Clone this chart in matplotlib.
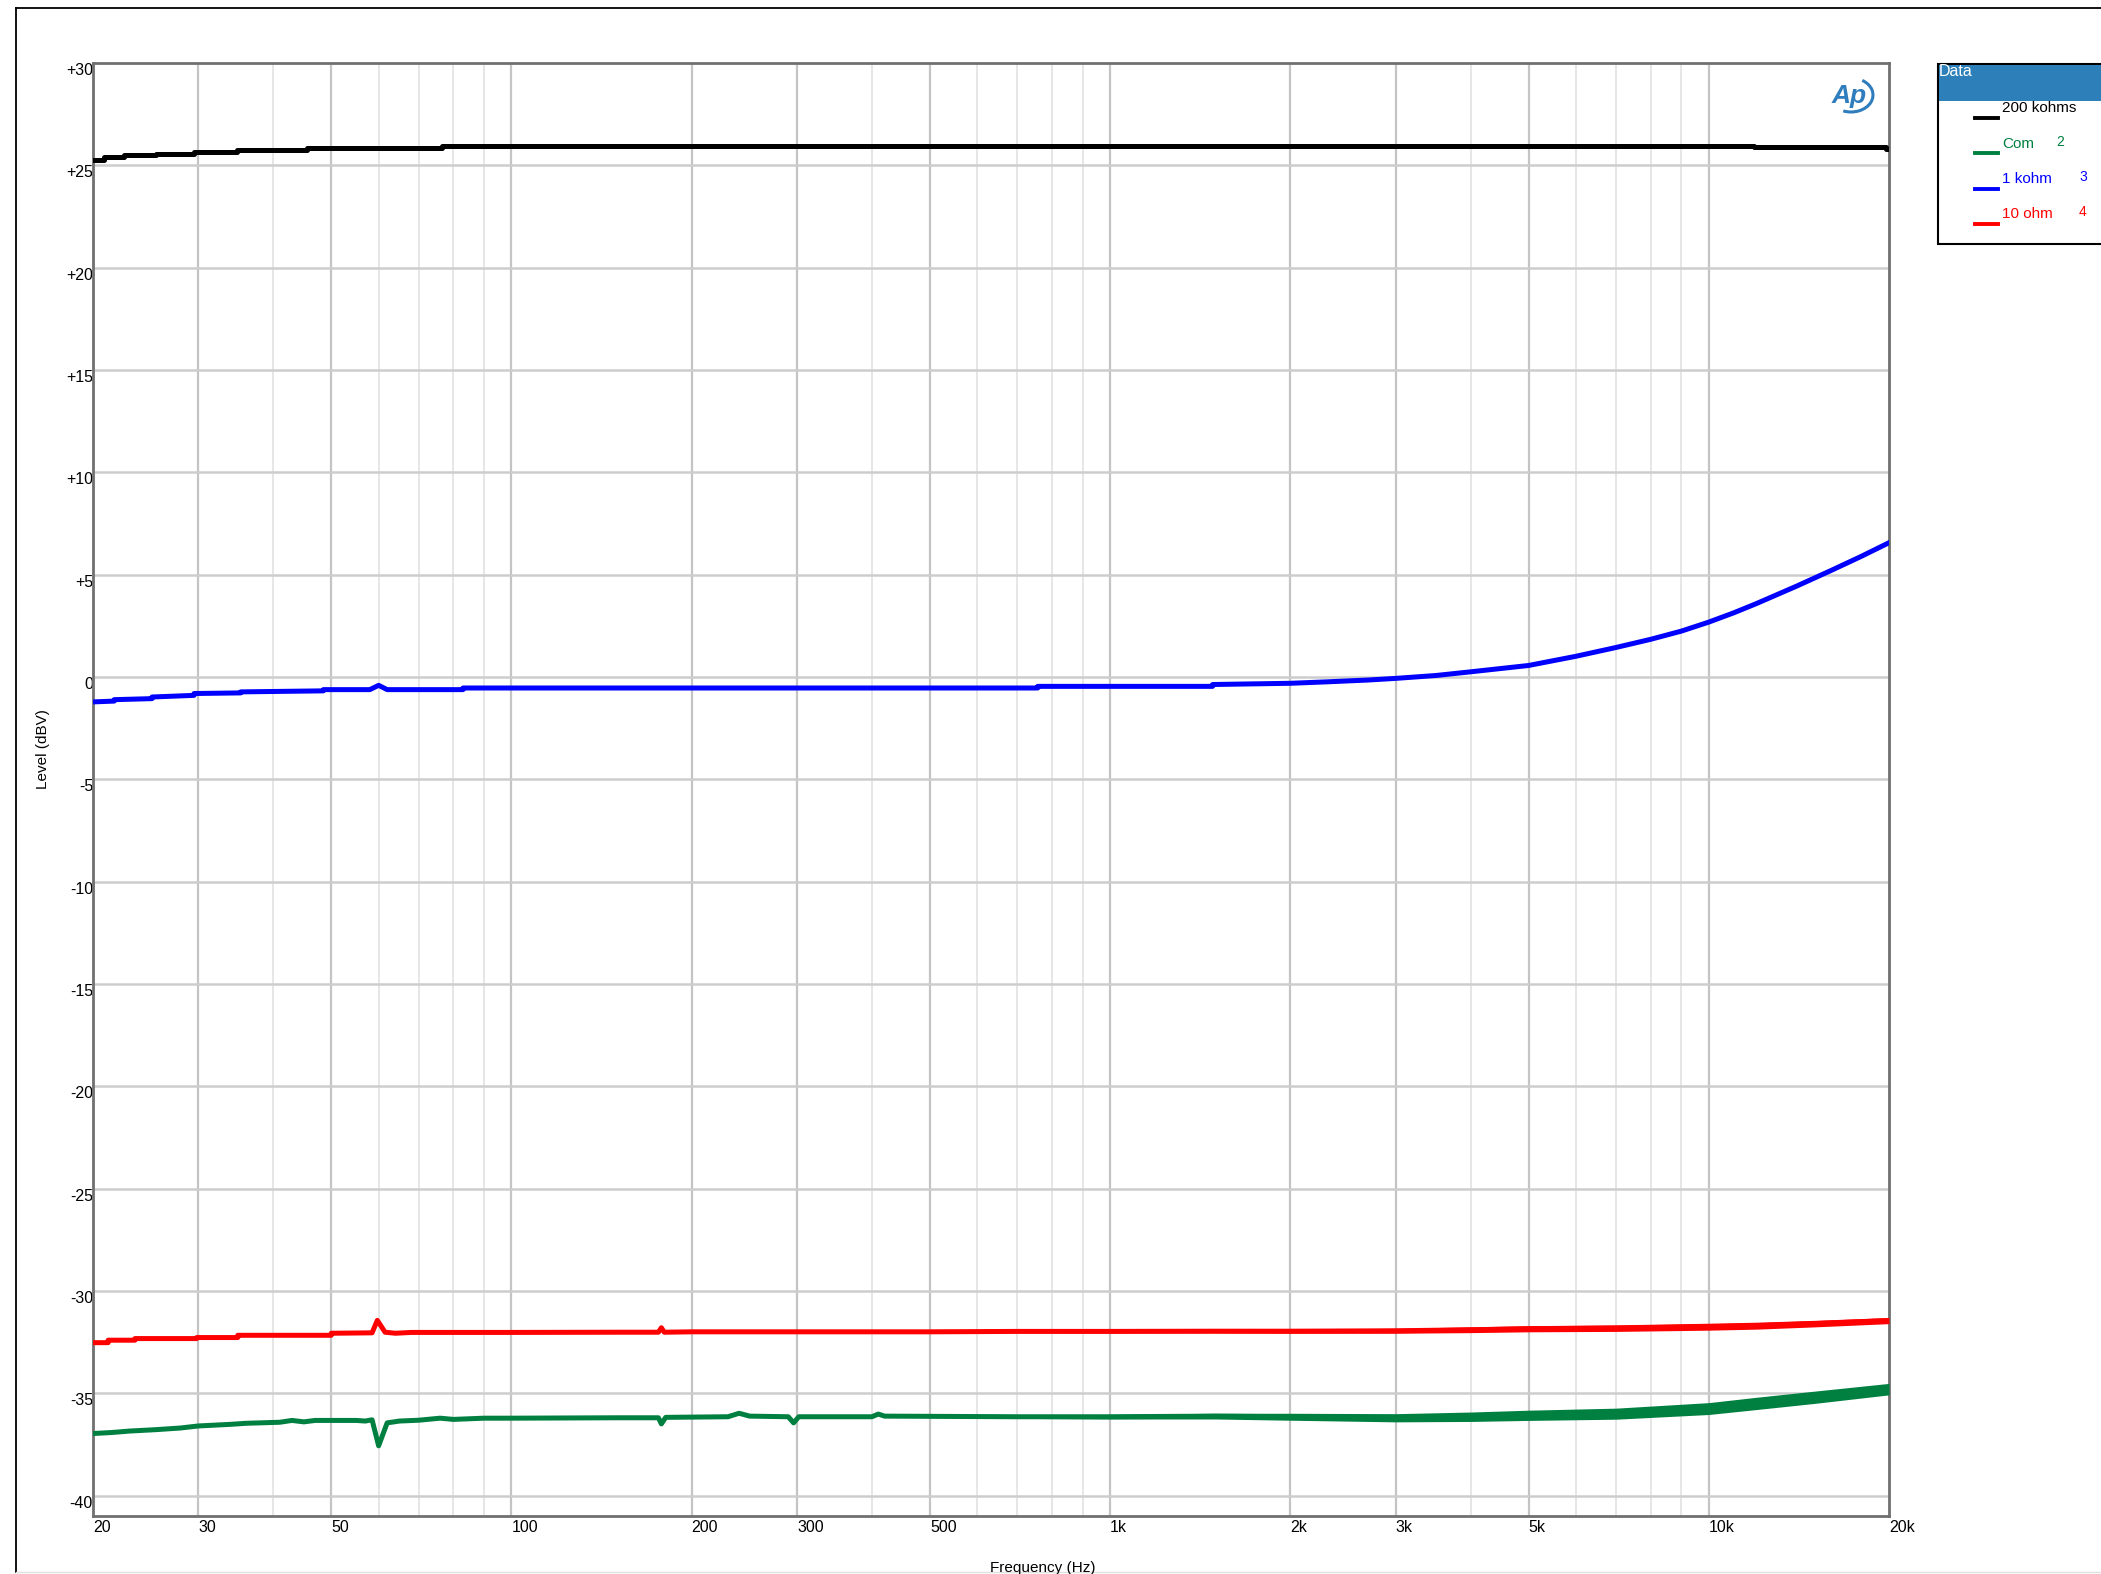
import numpy as np
import matplotlib
matplotlib.use("Agg")
import matplotlib.pyplot as plt
from matplotlib.patches import Rectangle, Arc
from matplotlib.lines import Line2D
from matplotlib.transforms import ScaledTranslation

# ---- data (Hz, dBV) ----
black_f = [20, 20.9, 22.5, 25.5, 29.5, 34.8, 45.6, 76.5, 11900, 19800, 20000]
black_db = [25.28, 25.41, 25.49, 25.57, 25.65, 25.73, 25.86, 25.94, 25.88, 25.80, 25.80]

blue_f = [20, 21.7, 21.7, 25.1, 25.1, 29.5, 29.5, 35.3, 35.3, 48.5, 48.5, 58, 60, 62,
          83, 83, 757, 757, 1483, 1483, 2000, 2300, 2700, 3000, 3500, 4000, 5000,
          6000, 7000, 8000, 9000, 10000, 11000, 12000, 14000, 16000, 18000, 20000]
blue_db = [-1.22, -1.18, -1.11, -1.06, -0.98, -0.90, -0.81, -0.78, -0.73, -0.68, -0.62, -0.62, -0.41, -0.62,
           -0.62, -0.54, -0.54, -0.46, -0.46, -0.37, -0.31, -0.24, -0.15, -0.07, 0.07, 0.25, 0.56,
           1.01, 1.44, 1.84, 2.24, 2.68, 3.13, 3.58, 4.43, 5.20, 5.90, 6.56]

red_f = [20, 21.2, 21.2, 23.5, 23.5, 29.8, 29.8, 34.9, 34.9, 50, 50, 58.5, 59.7, 61.5,
         64, 68, 100, 150, 176, 178, 180, 200, 300, 500, 700, 1000, 1500, 2000,
         3000, 4000, 5000, 7000, 10000, 12000, 15000, 20000]
red_db = [-32.53, -32.53, -32.41, -32.41, -32.33, -32.33, -32.28, -32.28, -32.17, -32.17, -32.07, -32.05, -31.44, -32.02,
          -32.07, -32.03, -32.03, -32.02, -32.02, -31.80, -32.02, -32.00, -32.00, -32.00, -31.98, -31.98, -31.97, -31.97,
          -31.95, -31.90, -31.85, -31.82, -31.75, -31.70, -31.60, -31.45]
red_spread = [0, 0, 0, 0, 0, 0, 0, 0, 0, 0, 0, 0, 0, 0,
              0, 0, 0, 0, 0, 0, 0, 0.02, 0.03, 0.04, 0.06, 0.07, 0.08, 0.10,
              0.12, 0.14, 0.15, 0.16, 0.17, 0.17, 0.16, 0.15]

green_f = [20, 21.5, 23, 25.5, 28, 30, 34, 36, 41, 43, 45, 47, 55, 57, 58.5, 60, 62, 65,
           70, 76, 80, 90, 100, 150, 176, 178, 181, 230, 240, 250, 290, 296, 302, 400,
           410, 420, 700, 1000, 1500, 2000, 3000, 4000, 5000, 7000, 10000, 12000, 15000, 20000]
green_db = [-36.97, -36.92, -36.85, -36.78, -36.70, -36.60, -36.52, -36.47, -36.42, -36.33, -36.40, -36.33, -36.33, -36.36, -36.30, -37.57, -36.45, -36.36,
            -36.32, -36.22, -36.28, -36.22, -36.22, -36.20, -36.20, -36.50, -36.18, -36.15, -35.98, -36.12, -36.15, -36.45, -36.15, -36.15,
            -36.02, -36.12, -36.15, -36.15, -36.12, -36.15, -36.20, -36.15, -36.08, -36.00, -35.75, -35.50, -35.20, -34.80]
green_spread = [0, 0, 0, 0, 0, 0, 0, 0, 0, 0, 0, 0, 0, 0, 0, 0, 0, 0,
                0, 0, 0, 0, 0, 0, 0, 0, 0, 0.02, 0.02, 0.02, 0.03, 0.03, 0.03, 0.04,
                0.04, 0.05, 0.08, 0.11, 0.14, 0.17, 0.20, 0.23, 0.25, 0.27, 0.29, 0.30, 0.30, 0.28]

series_names = ["200 kohms", "Com", "1 kohm", "10 ohm"]
series_nums = ["", "2", "3", "4"]
series_colors = ["#000000", "#008040", "#0000ff", "#ff0000"]

x_major = [20, 30, 50, 100, 200, 300, 500, 1000, 2000, 3000, 5000, 10000, 20000]
x_labels = ["20", "30", "50", "100", "200", "300", "500", "1k", "2k", "3k", "5k", "10k", "20k"]
x_minor = [40, 60, 70, 80, 90, 400, 600, 700, 800, 900, 4000, 6000, 7000, 8000, 9000]
y_ticks = list(range(-40, 31, 5))
y_labels = [("+%d" % v if v > 0 else "%d" % v) for v in y_ticks]

W, H = 2101, 1574
plt.rcParams["font.family"] = ["Liberation Sans", "DejaVu Sans"]

fig = plt.figure(figsize=(W / 100, H / 100), dpi=100)


def fx(x):
    return x / W


def fy(y):
    return 1 - y / H


ax = fig.add_axes([fx(93), fy(1516), (1889 - 93) / W, (1516 - 63) / H])
ax.set_xscale("log")
ax.set_xlim(20, 20000)
ax.set_ylim(-41.0, 30)

# grid
for v in x_minor:
    ax.axvline(v, color="#e6e6e6", lw=1.4, zorder=0)
for v in x_major[1:-1]:
    ax.axvline(v, color="#c4c4c4", lw=1.6, zorder=0)
for v in y_ticks[:-1]:
    ax.axhline(v, color="#cdcdcd", lw=1.8, zorder=0)

# traces
lw = 3.6
ax.plot(black_f, black_db, color=series_colors[0], lw=lw, drawstyle="steps-post", zorder=3)
ax.plot(blue_f, blue_db, color=series_colors[2], lw=lw, zorder=3)

r = np.array(red_db)
rs = np.array(red_spread)
ax.fill_between(red_f, r - rs, r + rs, color=series_colors[3], lw=0, zorder=3)
ax.plot(red_f, red_db, color=series_colors[3], lw=lw, zorder=3)

g = np.array(green_db)
gs = np.array(green_spread)
ax.fill_between(green_f, g - gs, g + gs, color=series_colors[1], lw=0, zorder=3)
ax.plot(green_f, green_db, color=series_colors[1], lw=lw, zorder=3)

# ticks
ax.minorticks_off()
ax.set_xticks(x_major)
ax.set_xticklabels(x_labels, fontsize=11.5)
for lbl in ax.get_xticklabels():
    lbl.set_ha("left")
ax.tick_params(axis="x", length=0, pad=3)

ax.set_yticks(y_ticks)
ax.set_yticklabels(y_labels, fontsize=11.5)
ax.tick_params(axis="y", length=0, pad=0)
off = ScaledTranslation(0, -6 / 100, fig.dpi_scale_trans)
for lbl in ax.get_yticklabels():
    lbl.set_transform(lbl.get_transform() + off)

for s in ax.spines.values():
    s.set_color("#707070")
    s.set_linewidth(2)

fig.text(fx(1043), fy(1568), "Frequency (Hz)", ha="center", va="center", fontsize=11)
fig.text(fx(43), fy(749), "Level (dBV)", ha="center", va="center", rotation=90, fontsize=11)

# outer frame
fig.add_artist(Line2D([fx(16), fx(16)], [fy(8), fy(1572)], color="black", lw=1.3))
fig.add_artist(Line2D([fx(16), 1.0], [fy(8), fy(8)], color="black", lw=1.3))
fig.add_artist(Line2D([fx(16), 1.0], [fy(1572), fy(1572)], color="#e0e0e0", lw=1.0))

# AP logo
fig.text(fx(1849), fy(96), "Ap", ha="center", va="center", fontsize=19, fontweight="bold",
         fontstyle="italic", color="#2f7dbd")
fig.add_artist(Arc((fx(1851), fy(95)), 44 / W, 34 / H, theta1=-110, theta2=60,
                   color="#2f7dbd", lw=2.2, transform=fig.transFigure))

# legend box
fig.add_artist(Rectangle((fx(1938), fy(244)), (W - 1938 + 20) / W, (244 - 64) / H,
                         facecolor="white", edgecolor="black", lw=1.5, transform=fig.transFigure))
fig.add_artist(Rectangle((fx(1939), fy(101)), (W - 1939 + 20) / W, (101 - 65) / H,
                         facecolor="#2c7fb8", edgecolor="none", transform=fig.transFigure))
fig.text(fx(1939), fy(72), "Data", ha="left", va="center", fontsize=11.5, color="white")

line_y = [118, 153, 189, 224]
text_y = [108, 144, 179, 214]
for i in range(4):
    fig.add_artist(Line2D([fx(1975), fx(1998)], [fy(line_y[i]), fy(line_y[i])],
                          color=series_colors[i], lw=2.8))
    fig.text(fx(2002), fy(text_y[i]), series_names[i], ha="left", va="center",
             fontsize=11, color=series_colors[i])
    if series_nums[i]:
        nx = 2056 if i == 1 else 2079
        fig.text(fx(nx), fy(text_y[i] - 2), series_nums[i], ha="left", va="center",
                 fontsize=10, color=series_colors[i])

fig.savefig("out.png", dpi=100)
